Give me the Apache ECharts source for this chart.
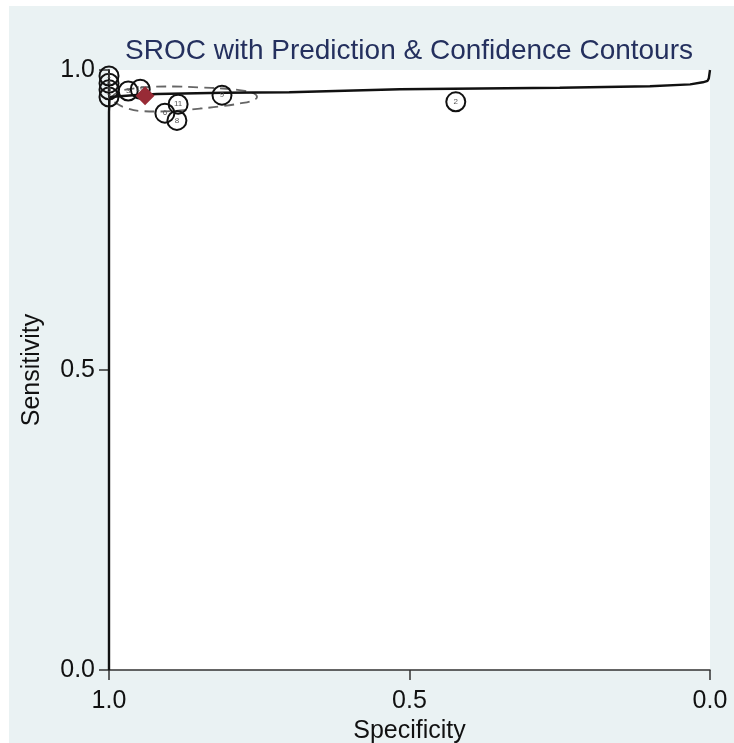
<!DOCTYPE html>
<html>
<head>
<meta charset="utf-8">
<script src="https://cdn.jsdelivr.net/npm/echarts@6/dist/echarts.min.js"></script>
<style>
  html, body { margin: 0; padding: 0; background: #ffffff; }
  #bg { position: absolute; left: 9px; top: 6px; width: 725px; height: 737px; background: #eaf2f3; }
  #chart { position: absolute; left: 0; top: 0; width: 734px; height: 743px; }
</style>
</head>
<body>
<div id="bg"></div>
<div id="chart"></div>
<script>
// ---- data ----
const titleText = 'SROC with Prediction & Confidence Contours';
const xAxisName = 'Specificity';
const yAxisName = 'Sensitivity';
const axisTicks = [0, 0.5, 1.0];

// individual studies
const studyLabels = ['1', '4', '5', '7', '10', '3', '9', '11', '6', '8', '2'];
const studySpec   = [1.000, 1.000, 1.000, 1.000, 0.948, 0.968, 0.812, 0.885, 0.907, 0.887, 0.423];
const studySens   = [0.990, 0.978, 0.967, 0.955, 0.968, 0.965, 0.958, 0.943, 0.928, 0.916, 0.947];

// summary operating point
const summarySpec = [0.940];
const summarySens = [0.957];

// SROC curve
const srocSpec = [1.000, 1.000, 0.999, 0.960, 0.920, 0.810, 0.700, 0.516, 0.250, 0.100, 0.033, 0.012, 0.004, 0.002, 0.000];
const srocSens = [0.000, 0.930, 0.955, 0.958, 0.960, 0.962, 0.963, 0.968, 0.9705, 0.973, 0.976, 0.9795, 0.982, 0.986, 1.000];

// prediction contour
const predSpec = [0.9967, 0.985, 0.965, 0.9318, 0.8935, 0.8486, 0.8103, 0.777, 0.7587, 0.7537, 0.7604, 0.782, 0.8153, 0.8486, 0.8819, 0.9151, 0.9484, 0.9717, 0.9884, 0.9967];
const predSens = [0.9533, 0.9633, 0.9683, 0.9717, 0.9725, 0.9708, 0.9692, 0.9658, 0.9608, 0.955, 0.9492, 0.9442, 0.9392, 0.9358, 0.9325, 0.9308, 0.9317, 0.9367, 0.945, 0.9533];

// ---- build ----
const FONT = '"Liberation Sans", Arial, sans-serif';
const zip = (a, b) => a.map((v, i) => [v, b[i]]);
const studyData = studySpec.map((s, i) => ({ value: [s, studySens[i]], label: studyLabels[i] }));

const chart = echarts.init(document.getElementById('chart'), null, { renderer: 'canvas' });
chart.setOption({
  animation: false,
  title: {
    text: titleText,
    left: 404,
    top: 32,
    textAlign: 'center',
    textStyle: { fontFamily: FONT, fontSize: 28, fontWeight: 'normal', color: '#24305e' }
  },
  grid: {
    left: 109, right: 24, top: 70, bottom: 73,
    containLabel: false, outerBoundsMode: 'none',
    show: true, backgroundColor: '#ffffff', borderWidth: 0
  },
  xAxis: {
    type: 'value', inverse: true, min: 0, max: 1, interval: 0.5,
    name: xAxisName, nameLocation: 'middle', nameGap: 42,
    nameTextStyle: { fontFamily: FONT, fontSize: 25, color: '#111' },
    axisLine: { show: true, onZero: false, lineStyle: { color: '#333', width: 1.5 } },
    axisTick: { show: true, length: 10, lineStyle: { color: '#333', width: 1.5 } },
    axisLabel: { margin: 19, fontFamily: FONT, fontSize: 25, color: '#111', formatter: v => v.toFixed(1) },
    splitLine: { show: false }
  },
  yAxis: {
    type: 'value', min: 0, max: 1, interval: 0.5,
    name: yAxisName, nameLocation: 'middle', nameGap: 64, nameRotate: 90,
    nameTextStyle: { fontFamily: FONT, fontSize: 25, color: '#111' },
    axisLine: { show: true, onZero: false, lineStyle: { color: '#111', width: 1.8 } },
    axisTick: { show: true, length: 10, lineStyle: { color: '#333', width: 1.5 } },
    axisLabel: { margin: 14, fontFamily: FONT, fontSize: 25, color: '#111', formatter: v => v.toFixed(1) },
    splitLine: { show: false }
  },
  series: [
    {
      name: 'Prediction Contour', type: 'line', data: zip(predSpec, predSens),
      showSymbol: false, smooth: 0.4, clip: false,
      lineStyle: { color: '#666', width: 1.8, type: [10, 6] }, z: 2
    },
    {
      name: 'SROC Curve', type: 'line', data: zip(srocSpec, srocSens),
      showSymbol: false, smooth: false, clip: false,
      lineStyle: { color: '#111', width: 2.4 }, z: 3
    },
    {
      name: 'Observed Data', type: 'scatter', data: studyData,
      symbol: 'circle', symbolSize: 19, clip: false,
      itemStyle: { color: 'rgba(0,0,0,0)', borderColor: '#111', borderWidth: 2, opacity: 1 },
      label: {
        show: true, position: 'inside', formatter: p => p.data.label,
        fontFamily: FONT, fontSize: 8, color: '#555'
      },
      z: 4
    },
    {
      name: 'Summary Operating Point', type: 'scatter', data: zip(summarySpec, summarySens),
      symbol: 'diamond', symbolSize: 19, clip: false,
      itemStyle: { color: '#982b36', opacity: 1 }, z: 5
    }
  ]
});
</script>
</body>
</html>
